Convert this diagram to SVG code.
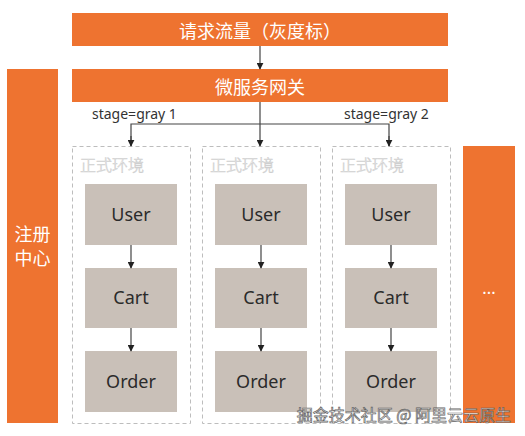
<svg xmlns="http://www.w3.org/2000/svg" width="525" height="436" viewBox="0 0 525 436">
<defs>
<style>
.bar{fill:#EE7330}
.env{fill:none;stroke:#BDBDBD;stroke-width:1;stroke-dasharray:4 3}
.svc{fill:#C9C0B8}
.wt{font-family:"Noto Sans CJK SC","Noto Sans",sans-serif;fill:#FFFFFF;text-anchor:middle;dominant-baseline:central}
.st{font-family:"Noto Sans","Open Sans",sans-serif;font-size:18px;fill:#2B2B2B;text-anchor:middle;dominant-baseline:central}
.lbl{font-family:"Noto Sans","Open Sans",sans-serif;font-size:14px;fill:#333333}
.envt{font-family:"Noto Sans CJK SC",sans-serif;font-size:16px;font-weight:300;fill:#FFFFFF;stroke:#CFCFCF;stroke-width:0.6}
.ln{fill:none;stroke:#444444;stroke-width:1.2}
</style>
<marker id="ah" viewBox="0 0 10 10" refX="9" refY="5" markerWidth="7" markerHeight="7" orient="auto" markerUnits="userSpaceOnUse">
<path d="M0,0 L10,5 L0,10 z" fill="#222222"/>
</marker>
</defs>
<rect width="525" height="436" fill="#FFFFFF"/>

<g id="traffic"><rect class="bar" x="72" y="13" width="376" height="33"/><text class="wt" x="260" y="30" font-size="18">请求流量（灰度标）</text></g>
<g id="gateway"><rect class="bar" x="72" y="69" width="376" height="33"/><text class="wt" x="260" y="85.5" font-size="18">微服务网关</text></g>
<g id="registry"><rect class="bar" x="7" y="69" width="51" height="354"/><text class="wt" x="32.5" y="233" font-size="18">注册</text><text class="wt" x="32.5" y="257" font-size="18">中心</text></g>
<g id="more"><rect class="bar" x="463" y="146" width="52" height="277"/><text class="wt" x="489" y="287" font-size="16">...</text></g>

<g id="env1"><rect class="env" x="72.5" y="146.5" width="118" height="277"/><text class="envt" x="80" y="171">正式环境</text></g>
<g id="env2"><rect class="env" x="202.5" y="146.5" width="118" height="277"/><text class="envt" x="210" y="171">正式环境</text></g>
<g id="env3"><rect class="env" x="332.5" y="146.5" width="118" height="277"/><text class="envt" x="340" y="171">正式环境</text></g>

<g id="user1"><rect class="svc" x="85" y="184" width="92" height="61"/><text class="st" x="131" y="214">User</text></g>
<g id="cart1"><rect class="svc" x="85" y="268" width="92" height="60"/><text class="st" x="131" y="297">Cart</text></g>
<g id="order1"><rect class="svc" x="85" y="351" width="92" height="61"/><text class="st" x="131" y="381">Order</text></g>
<g id="user2"><rect class="svc" x="215" y="184" width="92" height="61"/><text class="st" x="261" y="214">User</text></g>
<g id="cart2"><rect class="svc" x="215" y="268" width="92" height="60"/><text class="st" x="261" y="297">Cart</text></g>
<g id="order2"><rect class="svc" x="215" y="351" width="92" height="61"/><text class="st" x="261" y="381">Order</text></g>
<g id="user3"><rect class="svc" x="345" y="184" width="92" height="61"/><text class="st" x="391" y="214">User</text></g>
<g id="cart3"><rect class="svc" x="345" y="268" width="92" height="60"/><text class="st" x="391" y="297">Cart</text></g>
<g id="order3"><rect class="svc" x="345" y="351" width="92" height="61"/><text class="st" x="391" y="381">Order</text></g>

<g id="connectors">
<line class="ln" x1="260" y1="46" x2="260" y2="69" marker-end="url(#ah)"/>
<line class="ln" x1="260" y1="102" x2="260" y2="146" marker-end="url(#ah)"/>
<polyline class="ln" points="131,146 131,124 389,124 389,146"/>
<line class="ln" x1="131" y1="136" x2="131" y2="146" marker-end="url(#ah)"/>
<line class="ln" x1="389" y1="136" x2="389" y2="146" marker-end="url(#ah)"/>
<text class="lbl" x="92" y="119">stage=gray 1</text>
<text class="lbl" x="344" y="119">stage=gray 2</text>
<line class="ln" x1="131" y1="245" x2="131" y2="268" marker-end="url(#ah)"/>
<line class="ln" x1="131" y1="328" x2="131" y2="351" marker-end="url(#ah)"/>
<line class="ln" x1="261" y1="245" x2="261" y2="268" marker-end="url(#ah)"/>
<line class="ln" x1="261" y1="328" x2="261" y2="351" marker-end="url(#ah)"/>
<line class="ln" x1="391" y1="245" x2="391" y2="268" marker-end="url(#ah)"/>
<line class="ln" x1="391" y1="328" x2="391" y2="351" marker-end="url(#ah)"/>
</g>

<text x="511" y="421" text-anchor="end" font-family="Noto Sans CJK SC,sans-serif" font-size="16" fill="#FFFFFF" stroke="#555555" stroke-width="0.7" opacity="0.9">掘金技术社区 @ 阿里云云原生</text>
</svg>
